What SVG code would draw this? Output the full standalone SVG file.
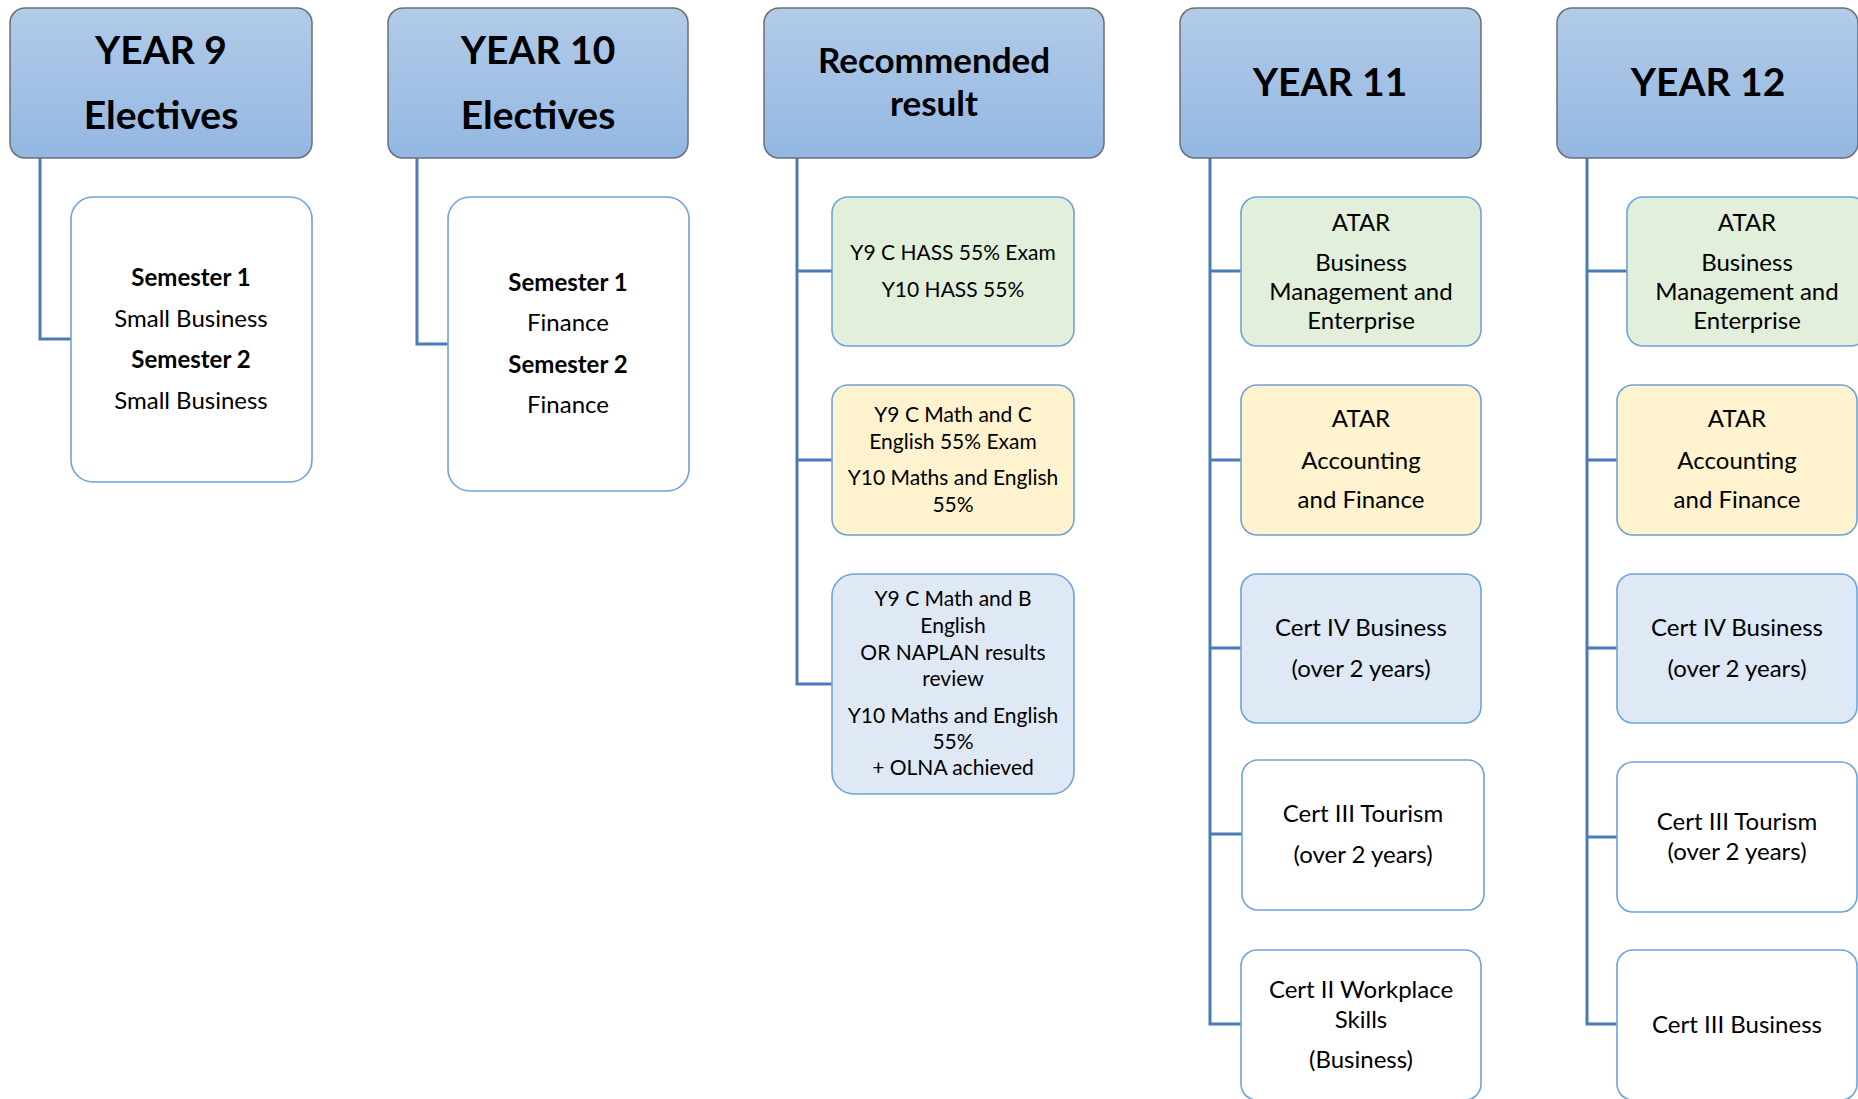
<svg xmlns="http://www.w3.org/2000/svg" width="1858" height="1099" viewBox="0 0 1858 1099">
<defs>
<linearGradient id="hg" x1="0" y1="0" x2="0" y2="1">
<stop offset="0" stop-color="#b2cbe8"/>
<stop offset="1" stop-color="#93b7e2"/>
</linearGradient>
<style>
.hdr{fill:url(#hg);stroke:#6b6f75;stroke-width:1.5}
.box{stroke:#6fa3da;stroke-width:1.6}
.w{fill:#ffffff}.g{fill:#e2efda}.y{fill:#fff2cf}.b{fill:#dfe9f5}
text{font-family:Lato,"Noto Sans",sans-serif;fill:#000;text-anchor:middle}
.ht{font-size:39px;font-weight:bold}
.rt{font-size:35px;font-weight:bold}
.t{font-size:24px}
.s{font-size:21px}
.bd{font-weight:bold}
.con{fill:none;stroke:#4a7bb5;stroke-width:3}
</style>
</defs>
<g id="connectors">
<path class="con" d="M40,158 V339 H71"/>
<path class="con" d="M417,158 V344 H448"/>
<path class="con" d="M797,158 V684 H832 M797,271 H832 M797,460 H832"/>
<path class="con" d="M1210,158 V1024 H1241 M1210,271 H1241 M1210,460 H1241 M1210,648 H1241 M1210,834 H1242"/>
<path class="con" d="M1587,158 V1024 H1617 M1587,271 H1627 M1587,460 H1617 M1587,648 H1617 M1587,837 H1617"/>
</g>
<g id="year9">
<rect class="hdr" x="10" y="8" width="302" height="150" rx="15"/>
<text class="ht" x="161" y="64">YEAR 9</text>
<text class="ht" x="161" y="129">Electives</text>
</g>
<g id="year9-sem">
<rect class="box w" x="71" y="197" width="241" height="285" rx="22"/>
<text class="t bd" x="191" y="286">Semester 1</text>
<text class="t" x="191" y="327">Small Business</text>
<text class="t bd" x="191" y="368">Semester 2</text>
<text class="t" x="191" y="409">Small Business</text>
</g>
<g id="year10">
<rect class="hdr" x="388" y="8" width="300" height="150" rx="15"/>
<text class="ht" x="538" y="64">YEAR 10</text>
<text class="ht" x="538" y="129">Electives</text>
</g>
<g id="year10-sem">
<rect class="box w" x="448" y="197" width="241" height="294" rx="22"/>
<text class="t bd" x="568" y="291">Semester 1</text>
<text class="t" x="568" y="331">Finance</text>
<text class="t bd" x="568" y="373">Semester 2</text>
<text class="t" x="568" y="413">Finance</text>
</g>
<g id="recommended">
<rect class="hdr" x="764" y="8" width="340" height="150" rx="15"/>
<text class="rt" x="934" y="73">Recommended</text>
<text class="rt" x="934" y="116">result</text>
</g>
<g id="rec-hass">
<rect class="box g" x="832" y="197" width="242" height="149" rx="16"/>
<text class="s" x="953" y="260">Y9 C HASS 55% Exam</text>
<text class="s" x="953" y="297">Y10 HASS 55%</text>
</g>
<g id="rec-math">
<rect class="box y" x="832" y="385" width="242" height="150" rx="16"/>
<text class="s" x="953" y="422">Y9 C Math and C</text>
<text class="s" x="953" y="449">English 55% Exam</text>
<text class="s" x="953" y="485">Y10 Maths and English</text>
<text class="s" x="953" y="512">55%</text>
</g>
<g id="rec-cert">
<rect class="box b" x="832" y="574" width="242" height="220" rx="22"/>
<text class="s" x="953" y="606">Y9 C Math and B</text>
<text class="s" x="953" y="633">English</text>
<text class="s" x="953" y="660">OR NAPLAN results</text>
<text class="s" x="953" y="686">review</text>
<text class="s" x="953" y="723">Y10 Maths and English</text>
<text class="s" x="953" y="749">55%</text>
<text class="s" x="953" y="775">+ OLNA achieved</text>
</g>
<g id="year11">
<rect class="hdr" x="1180" y="8" width="301" height="150" rx="15"/>
<text class="ht" x="1330" y="96">YEAR 11</text>
</g>
<g id="y11-bme">
<rect class="box g" x="1241" y="197" width="240" height="149" rx="16"/>
<text class="t" x="1361" y="231">ATAR</text>
<text class="t" x="1361" y="271">Business</text>
<text class="t" x="1361" y="300">Management and</text>
<text class="t" x="1361" y="329">Enterprise</text>
</g>
<g id="y11-af">
<rect class="box y" x="1241" y="385" width="240" height="150" rx="16"/>
<text class="t" x="1361" y="427">ATAR</text>
<text class="t" x="1361" y="469">Accounting</text>
<text class="t" x="1361" y="508">and Finance</text>
</g>
<g id="y11-cert4">
<rect class="box b" x="1241" y="574" width="240" height="149" rx="16"/>
<text class="t" x="1361" y="636">Cert IV Business</text>
<text class="t" x="1361" y="677">(over 2 years)</text>
</g>
<g id="y11-tourism">
<rect class="box w" x="1242" y="760" width="242" height="150" rx="16"/>
<text class="t" x="1363" y="822">Cert III Tourism</text>
<text class="t" x="1363" y="863">(over 2 years)</text>
</g>
<g id="y11-workplace">
<rect class="box w" x="1241" y="950" width="240" height="150" rx="16"/>
<text class="t" x="1361" y="998">Cert II Workplace</text>
<text class="t" x="1361" y="1028">Skills</text>
<text class="t" x="1361" y="1068">(Business)</text>
</g>
<g id="year12">
<rect class="hdr" x="1557" y="8" width="301" height="150" rx="15"/>
<text class="ht" x="1708" y="96">YEAR 12</text>
</g>
<g id="y12-bme">
<rect class="box g" x="1627" y="197" width="240" height="149" rx="16"/>
<text class="t" x="1747" y="231">ATAR</text>
<text class="t" x="1747" y="271">Business</text>
<text class="t" x="1747" y="300">Management and</text>
<text class="t" x="1747" y="329">Enterprise</text>
</g>
<g id="y12-af">
<rect class="box y" x="1617" y="385" width="240" height="150" rx="16"/>
<text class="t" x="1737" y="427">ATAR</text>
<text class="t" x="1737" y="469">Accounting</text>
<text class="t" x="1737" y="508">and Finance</text>
</g>
<g id="y12-cert4">
<rect class="box b" x="1617" y="574" width="240" height="149" rx="16"/>
<text class="t" x="1737" y="636">Cert IV Business</text>
<text class="t" x="1737" y="677">(over 2 years)</text>
</g>
<g id="y12-tourism">
<rect class="box w" x="1617" y="762" width="240" height="150" rx="16"/>
<text class="t" x="1737" y="830">Cert III Tourism</text>
<text class="t" x="1737" y="860">(over 2 years)</text>
</g>
<g id="y12-cert3">
<rect class="box w" x="1617" y="950" width="240" height="150" rx="16"/>
<text class="t" x="1737" y="1033">Cert III Business</text>
</g>
</svg>
